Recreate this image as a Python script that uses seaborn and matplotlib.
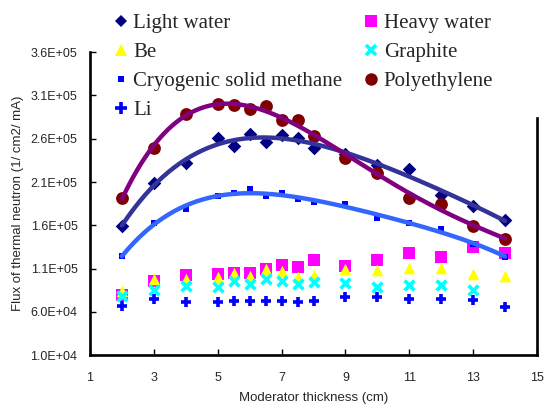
'''
thermal neutron flux vs moderator thickness
'''

import numpy as np
import pandas as pd
import matplotlib
matplotlib.use("Agg")
import matplotlib.pyplot as plt
import seaborn as sns
from matplotlib.lines import Line2D
from matplotlib.ticker import FuncFormatter

thickness = [2, 3, 4, 5, 5.5, 6, 6.5, 7, 7.5, 8, 9, 10, 11, 12, 13, 14]

light_water = [159300, 208600, 231700, 260600, 251700, 265500, 256600, 264400,
               260600, 249500, 243000, 229700, 224800, 195100, 182400, 166200]
heavy_water = [79300, 95400, 102400, 103900, 104700, 105400, 110000, 114600,
               111600, 120000, 113100, 120000, 128500, 123200, 135400, 128500]
be = [84600, 98400, 97800, 100100, 104700, 101600, 110000, 107000,
      100800, 103100, 109300, 108500, 110800, 110800, 103900, 101600]
graphite = [78500, 85400, 90000, 88500, 96100, 92300, 98400, 96100,
            92300, 94200, 93100, 89200, 91500, 91500, 85400, np.nan]
methane = [124700, 162400, 178600, 194000, 197000, 202400, 194000, 197800,
           190100, 187400, 184700, 168200, 162400, 155500, 138500, 123900]
polyethylene = [192000, 249000, 288600, 300200, 299000, 294000, 297900, 281700,
                281700, 263400, 237500, 220800, 191300, 184700, 159300, 144000]
li = [66900, 74700, 71500, 71500, 72300, 73000, 72300, 72300,
      71500, 72300, 77700, 77000, 75400, 74700, 73900, 65400]

y_ticks = [1.0e4, 6.0e4, 1.1e5, 1.6e5, 2.1e5, 2.6e5, 3.1e5, 3.6e5]
x_ticks = [1, 3, 5, 7, 9, 11, 13, 15]

# name, values, marker, colour, size, edge width, trend colour
series = [
    ("Light water", light_water, "D", "#000080", 48, 0, "#333399"),
    ("Heavy water", heavy_water, "s", "#FF00FF", 75, 0, None),
    ("Be", be, "^", "#FFFF00", 70, 0, None),
    ("Graphite", graphite, "x", "#00FFFF", 50, 2.6, None),
    ("Cryogenic solid methane", methane, "s", "#0000FF", 22, 0, "#3366FF"),
    ("Polyethylene", polyethylene, "o", "#800000", 85, 0, "#800080"),
    ("Li", li, "+", "#0000FF", 60, 2.6, None),
]

sns.set_style("white")
plt.rcParams['font.family'] = ['Liberation Sans', 'DejaVu Sans']

fig = plt.figure(figsize=(5.46, 4.12), dpi=100)
ax = fig.add_axes([90 / 546, 1 - 355.3 / 412, 447 / 546, 303.1 / 412])

for name, vals, marker, color, size, lw, trend in series:
    df = pd.DataFrame({"x": thickness, "y": vals}).dropna()
    sns.scatterplot(data=df, x="x", y="y", marker=marker, color=color,
                    s=size, linewidth=lw, ax=ax, zorder=3)

# polynomial trend lines like the spreadsheet ones
for name, vals, marker, color, size, lw, trend in series:
    if trend is None:
        continue
    coef = np.polyfit(thickness, vals, 4)
    xs = np.linspace(thickness[0], thickness[-1], 200)
    sns.lineplot(x=xs, y=np.polyval(coef, xs), color=trend, linewidth=3.2,
                 ax=ax, zorder=4)

ax.set_xlim(1, 15)
ax.set_ylim(1.0e4, 3.6e5)
ax.set_xticks(x_ticks)
ax.set_yticks(y_ticks)
ax.yaxis.set_major_formatter(FuncFormatter(lambda v, p: f"{v:.1E}"))
ax.tick_params(axis="both", direction="in", length=4, width=1, labelsize=9,
               left=True, bottom=True, color="black")
ax.tick_params(axis="y", pad=9)
ax.tick_params(axis="x", pad=12)

for side in ["left", "bottom", "right"]:
    ax.spines[side].set_visible(True)
    ax.spines[side].set_color("black")
    ax.spines[side].set_linewidth(1.9)
ax.spines["top"].set_visible(False)
ax.spines["right"].set_bounds(1.0e4, 2.84e5)

ax.set_xlabel("Moderator thickness (cm)", fontsize=9.5, labelpad=6)
ax.set_ylabel("Flux of thermal neutron (1/ cm2/ mA)", fontsize=9.5, labelpad=5)

order = [0, 2, 4, 6, 1, 3, 5]
handles = []
labels = []
for i in order:
    name, vals, marker, color, size, lw, trend = series[i]
    ms = {"D": 6.5, "s": 8 if size > 30 else 5, "^": 8, "x": 7, "o": 9, "+": 8}[marker]
    handles.append(Line2D([0], [0], linestyle="", marker=marker, color=color,
                          markersize=ms, markeredgewidth=lw if lw else 0))
    labels.append(name)

fig.legend(handles, labels, ncol=2, loc="upper left",
           bbox_to_anchor=(106 / 546, 1 - 5 / 412), frameon=False,
           prop={"family": "Liberation Serif", "size": 15},
           handlelength=0.6, handletextpad=0.3, labelspacing=0.45,
           columnspacing=1.1, borderaxespad=0)

plt.savefig("out.png", dpi=100)
